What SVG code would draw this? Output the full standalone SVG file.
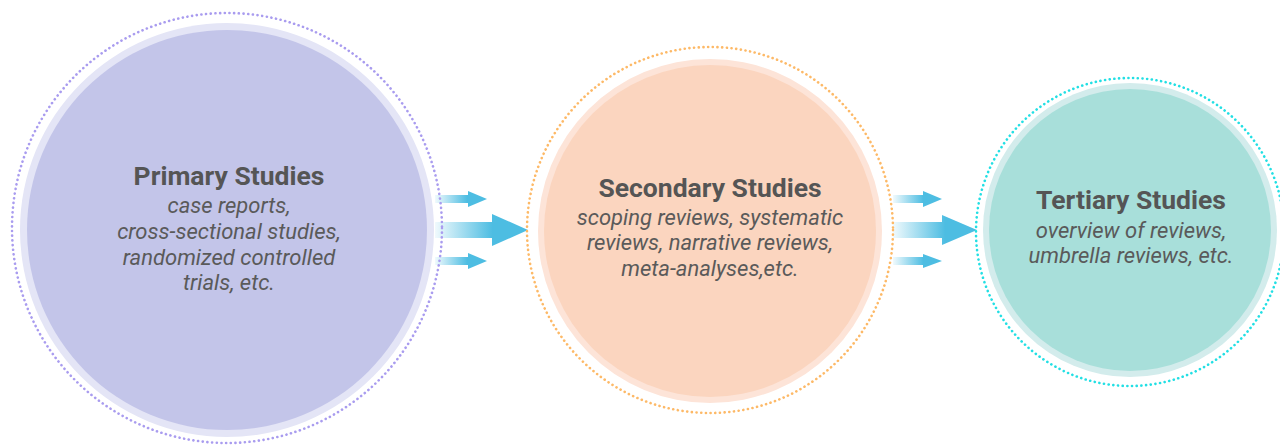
<svg xmlns="http://www.w3.org/2000/svg" width="1280" height="445" viewBox="0 0 1280 445">
<style>
.title{font-family:Roboto,"Liberation Sans",sans-serif;font-weight:bold;font-size:26.5px;fill:#555555;text-anchor:middle}
.sub{font-family:Roboto,"Liberation Sans",sans-serif;font-style:italic;font-size:22px;fill:#5a5a5a;text-anchor:middle}
.dot{fill:none;stroke-width:2.6;stroke-dasharray:0.1 4.6;stroke-linecap:round}
.arrow{fill:url(#ag)}
</style>
<defs>
<linearGradient id="ag" x1="0" y1="0" x2="1" y2="0">
<stop offset="0" stop-color="#4dbde2" stop-opacity="0.08"/>
<stop offset="0.62" stop-color="#4dbde2" stop-opacity="1"/>
<stop offset="1" stop-color="#4dbde2" stop-opacity="1"/>
</linearGradient>
</defs>
<g id="connectors">
<path class="arrow" d="M435,195 H468 V191 L487,199 L468,207 V203 H435 Z"/>
<path class="arrow" d="M435,222 H492 V214 L528,230 L492,246 V238 H435 Z"/>
<path class="arrow" d="M435,257 H468 V253 L487,261 L468,269 V265 H435 Z"/>
<path class="arrow" d="M893,195 H923 V191 L942,199 L923,207 V203 H893 Z"/>
<path class="arrow" d="M893,222 H942 V215 L977,230 L942,245 V238 H893 Z"/>
<path class="arrow" d="M893,257 H923 V254 L942,261 L923,268 V265 H893 Z"/>
</g>
<g id="primary">
<circle cx="227" cy="228" r="215" class="dot" stroke="#a99cef"/>
<circle cx="227" cy="230" r="207" fill="#e4e5f6"/>
<circle cx="227" cy="230" r="200" fill="#c3c5e9"/>
<text class="title" x="229" y="185">Primary Studies</text>
<text class="sub" x="229" y="213">case reports,</text>
<text class="sub" x="229" y="239">cross-sectional studies,</text>
<text class="sub" x="229" y="265">randomized controlled</text>
<text class="sub" x="229" y="290">trials, etc.</text>
</g>
<g id="secondary">
<circle cx="710" cy="230" r="183" class="dot" stroke="#fdb967"/>
<circle cx="710" cy="231" r="172" fill="#fde4d8"/>
<circle cx="710" cy="231" r="166" fill="#fbd5bf"/>
<text class="title" x="710" y="197">Secondary Studies</text>
<text class="sub" x="710" y="225">scoping reviews, systematic</text>
<text class="sub" x="710" y="250">reviews, narrative reviews,</text>
<text class="sub" x="710" y="276">meta-analyses,etc.</text>
</g>
<g id="tertiary">
<circle cx="1130" cy="232" r="154" class="dot" stroke="#22dfe4"/>
<circle cx="1130" cy="230" r="147" fill="#d3ecec"/>
<circle cx="1130" cy="230" r="141" fill="#a8dfda"/>
<text class="title" x="1131" y="209">Tertiary Studies</text>
<text class="sub" x="1131" y="238">overview of reviews,</text>
<text class="sub" x="1131" y="263">umbrella reviews, etc.</text>
</g>
</svg>
